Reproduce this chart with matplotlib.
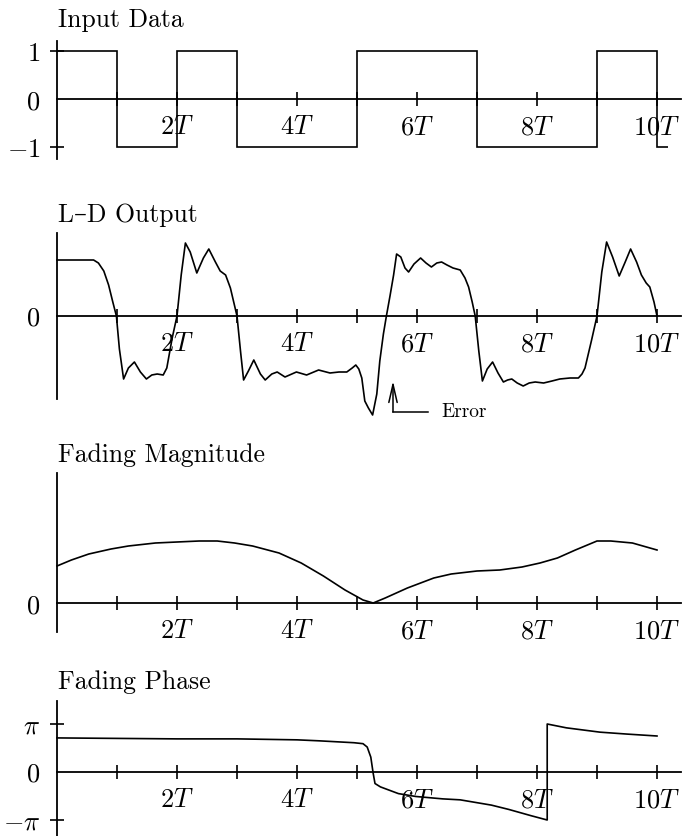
"""
Input data, L-D output and fading magnitude / phase over ten symbol periods.
"""
import numpy as np
import matplotlib
matplotlib.use("Agg")
import matplotlib.pyplot as plt

# Input data bits, one per symbol period T (last one is cut short)
bit_edges = [0, 1, 2, 3, 4, 5, 6, 7, 8, 9, 10, 10.18]
bits = [1, -1, 1, -1, -1, 1, 1, -1, -1, 1, -1]

# L-D output as (time in T, amplitude in arbitrary units)
ld_out = [
    (0, 56), (0.61, 56), (0.69, 53), (0.78, 45), (0.86, 31), (0.93, 14), (0.99, 0),
    (1.04, -33), (1.11, -63), (1.19, -52), (1.29, -46), (1.39, -56), (1.49, -63),
    (1.58, -59), (1.67, -58), (1.77, -59), (1.83, -52), (1.92, -22), (2.0, 0),
    (2.07, 41), (2.14, 73), (2.22, 64), (2.33, 43), (2.44, 58), (2.53, 67), (2.64, 54),
    (2.72, 45), (2.81, 41), (2.89, 28), (3.0, 0), (3.06, -36), (3.11, -64), (3.19, -55),
    (3.28, -44), (3.39, -58), (3.47, -64), (3.58, -58), (3.67, -56), (3.8, -61),
    (3.99, -56), (4.16, -59), (4.36, -54), (4.55, -57), (4.7, -56), (4.83, -56),
    (4.92, -52), (4.98, -49), (5.03, -53), (5.08, -62), (5.13, -85), (5.19, -92),
    (5.26, -99), (5.33, -78), (5.38, -45), (5.44, -18), (5.49, 0), (5.55, 20),
    (5.61, 41), (5.66, 62), (5.73, 59), (5.8, 48), (5.86, 44), (5.95, 52), (6.06, 58),
    (6.15, 53), (6.24, 49), (6.33, 53), (6.41, 54), (6.5, 51), (6.6, 48), (6.72, 46),
    (6.8, 38), (6.86, 29), (6.92, 14), (6.97, 0), (7.03, -35), (7.09, -65), (7.17, -53),
    (7.26, -46), (7.35, -57), (7.44, -66), (7.51, -64), (7.58, -63), (7.67, -67),
    (7.77, -70), (7.87, -67), (7.97, -66), (8.11, -67), (8.25, -65), (8.38, -63),
    (8.55, -62), (8.69, -62), (8.75, -58), (8.8, -52), (8.91, -24), (9.0, 0),
    (9.08, 44), (9.16, 74), (9.26, 59), (9.37, 40), (9.47, 54), (9.56, 67), (9.66, 54),
    (9.74, 41), (9.82, 33), (9.88, 29), (9.95, 14), (10.0, 0),
]

# Fading magnitude (arbitrary units)
mag_t = [0, 0.24, 0.53, 0.9, 1.19, 1.64, 2.0, 2.37, 2.67, 2.96, 3.26, 3.7, 4.07, 4.44,
         4.8, 5.1, 5.27, 5.47, 5.84, 6.28, 6.57, 7.0, 7.38, 7.75, 8.05, 8.34, 8.64,
         9.0, 9.23, 9.59, 10.0]
mag_y = [37, 43, 49, 54, 57, 60, 61, 62, 62, 60, 57, 50, 40, 27,
         13, 3, 0, 5, 15, 25, 29, 32, 33, 36, 40, 45, 53,
         62, 62, 60, 53]

# Fading phase, in multiples of pi
ph_t = [0, 1, 2, 3, 4, 4.36, 4.95, 5.1, 5.17, 5.23, 5.27, 5.3, 5.39, 5.69, 5.98,
        6.43, 6.72, 7.24, 7.53, 7.9, 8.17, 8.17, 8.49, 9.05, 9.5, 10.0]
ph_y = [0.71, 0.70, 0.69, 0.69, 0.67, 0.65, 0.61, 0.59, 0.52, 0.31, -0.03, -0.24, -0.31,
        -0.45, -0.51, -0.56, -0.58, -0.69, -0.78, -0.91, -1.0, 1.0, 0.92, 0.83, 0.79, 0.75]

titles = ["Input Data", "L\u2013D Output", "Fading Magnitude", "Fading Phase"]
x_ticks = list(range(1, 11))
x_labels = ["" if k % 2 else r"$%dT$" % k for k in x_ticks]

W, H = 694, 836
LW = 1.2


def make_axes(fig, top, bottom, ylim):
    # top/bottom are pixel rows of the vertical axis
    ax = fig.add_axes([57 / W, (H - bottom) / H, 624 / W, (bottom - top) / H])
    ax.set_xlim(0, 10.4)
    ax.set_ylim(*ylim)
    ax.patch.set_visible(False)
    for side in ("top", "right"):
        ax.spines[side].set_visible(False)
    ax.spines["left"].set_position(("data", 0))
    ax.spines["bottom"].set_position(("data", 0))
    for side in ("left", "bottom"):
        ax.spines[side].set_linewidth(1.3)
    ax.set_xticks(x_ticks)
    ax.set_xticklabels(x_labels)
    ax.tick_params(axis="both", direction="inout", length=10, width=1.2,
                   labelsize=19, colors="black")
    ax.tick_params(axis="x", pad=6)
    ax.tick_params(axis="y", pad=7)
    return ax


def hide_tick_lines(ax, idx):
    for i, t in enumerate(ax.yaxis.get_major_ticks()):
        if i in idx:
            t.tick1line.set_visible(False)


def main():
    plt.rcParams["mathtext.fontset"] = "cm"
    fig = plt.figure(figsize=(W / 100, H / 100), dpi=100)

    # Input data
    ax1 = make_axes(fig, 41, 159, (-1.263, 1.221))
    ax1.stairs(bits, bit_edges, baseline=None, color="black", lw=LW)
    ax1.set_yticks([-1, 0, 1])
    ax1.set_yticklabels([r"$-1$", r"$0$", r"$1$"])
    hide_tick_lines(ax1, [1])

    # L-D output
    ld_t, ld_y = zip(*ld_out)
    ax2 = make_axes(fig, 233, 399, (-83, 83))
    ax2.plot(ld_t, ld_y, color="black", lw=LW, clip_on=False)
    ax2.set_yticks([0])
    ax2.set_yticklabels([r"$0$"])
    hide_tick_lines(ax2, [0])
    ax2.annotate("", xy=(5.6, -65), xytext=(5.6, -96), annotation_clip=False,
                 arrowprops=dict(arrowstyle="->,head_length=1.3,head_width=0.3",
                                 color="black", lw=1.1, shrinkA=0, shrinkB=0))
    ax2.plot([5.6, 6.18], [-96, -96], color="black", lw=1.1, clip_on=False)
    ax2.text(6.4, -96, "Error", family=["cmr10", "DejaVu Serif"], fontsize=14,
             va="center", ha="left", clip_on=False)

    # Fading magnitude
    ax3 = make_axes(fig, 473, 632, (-29, 130))
    ax3.plot(mag_t, mag_y, color="black", lw=LW, clip_on=False)
    ax3.set_yticks([0])
    ax3.set_yticklabels([r"$0$"])
    hide_tick_lines(ax3, [0])

    # Fading phase
    ax4 = make_axes(fig, 701, 836, (-64 / 48 * np.pi, 71 / 48 * np.pi))
    ax4.plot(ph_t, np.array(ph_y) * np.pi, color="black", lw=LW, clip_on=False)
    ax4.set_yticks([-np.pi, 0, np.pi])
    ax4.set_yticklabels([r"$-\pi$", r"$0$", r"$\pi$"])
    hide_tick_lines(ax4, [1])

    # Panel titles
    for title, y in zip(titles, [20, 215, 455, 682]):
        fig.text(58 / W, 1 - y / H, title, family=["cmr10", "DejaVu Serif"],
                 fontsize=18.5, va="center", ha="left")

    fig.savefig("out.png", dpi=100)


if __name__ == "__main__":
    main()
